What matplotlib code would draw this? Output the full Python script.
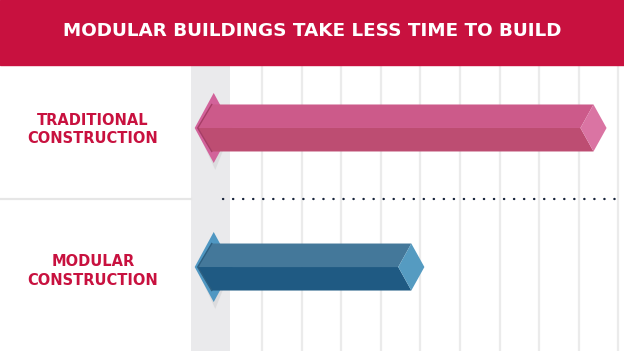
import matplotlib.pyplot as plt
from matplotlib.patches import Polygon, Rectangle

# data
title = 'MODULAR BUILDINGS TAKE LESS TIME TO BUILD'
categories = ['TRADITIONAL\nCONSTRUCTION', 'MODULAR\nCONSTRUCTION']
starts = [-0.7, -0.7]
ends = [9.7, 5.1]
grid_ticks = [1, 2, 3, 4, 5, 6, 7, 8, 9, 10]

# colours per bar: top, bottom, end face, left diamond, edge
palettes = [
    ('#cc5a8a', '#bd4d72', '#da74a3', '#d2629a', '#a63d66'),
    ('#44789a', '#1f5a83', '#559bc1', '#4f97c2', '#2d5f80'),
]
red = '#c8113f'

fig = plt.figure(figsize=(6.24, 3.51), dpi=100)
head_h = 65 / 351
fig.patches.append(Rectangle((0, 1 - head_h), 1, head_h, transform=fig.transFigure,
                             color=red, zorder=0))
fig.text(0.5, 1 - 31 / 351, title, color='white', fontsize=13.2, fontweight='bold',
         ha='center', va='center', family='DejaVu Sans')

ax = fig.add_axes([0, 0, 1, 1 - head_h])
ax.set_xlim(-5.616, 10.14)
ax.set_ylim(1.604, -0.453)
ax.axis('off')

# grey start column and grid
ax.axvspan(-0.793, 0.192, color='#eaeaec', zorder=0, lw=0)
ax.vlines(grid_ticks, 1.604, -0.453, color='#ebebeb', lw=1.6, zorder=0)
ax.plot([-5.616, -0.793], [0.51, 0.51], color='#e6e6e6', lw=1.6, zorder=1)
ax.plot([0.02, 10.14], [0.51, 0.51], color='#17233a', lw=1.7,
        linestyle=(0, (0.1, 4.15)), dash_capstyle='round', zorder=1)

bh = 0.169   # body half height
dh = 0.252   # diamond half height
for i, (s, e) in enumerate(zip(starts, ends)):
    top_c, bot_c, face_c, dia_c, edge_c = palettes[i]
    y = i
    # shadow and left diamond
    ax.add_patch(Polygon([(s + 0.06, y + 0.02), (s + 0.52, y - dh + 0.05),
                          (s + 0.9, y + 0.03), (s + 0.52, y + dh + 0.05)],
                         color='#d6d6d8', alpha=0.7, lw=0, zorder=2))
    ax.add_patch(Polygon([(s, y), (s + 0.48, y - dh), (s + 0.96, y), (s + 0.48, y + dh)],
                         color=dia_c, lw=0, zorder=3))
    # body
    ax.add_patch(Polygon([(s + 0.076, y), (s + 0.43, y + bh), (e - 0.33, y + bh), (e - 0.66, y)],
                         color=bot_c, lw=0, zorder=4))
    ax.add_patch(Polygon([(s + 0.076, y), (s + 0.43, y - bh), (e - 0.33, y - bh), (e - 0.66, y)],
                         color=top_c, lw=0, zorder=4))
    ax.plot([s + 0.43, s + 0.076, s + 0.43], [y - bh, y, y + bh], color=edge_c, lw=1, zorder=5)
    # end face
    ax.add_patch(Polygon([(e - 0.33, y - bh), (e, y), (e - 0.33, y + bh), (e - 0.66, y)],
                         color=face_c, lw=0, zorder=5))
    ax.text(-3.27, y + 0.01 + 0.02 * i, categories[i], color=red, fontsize=10.5,
            fontweight='bold', ha='center', va='center', linespacing=1.3,
            family='DejaVu Sans')

fig.savefig('out.png', dpi=100)
